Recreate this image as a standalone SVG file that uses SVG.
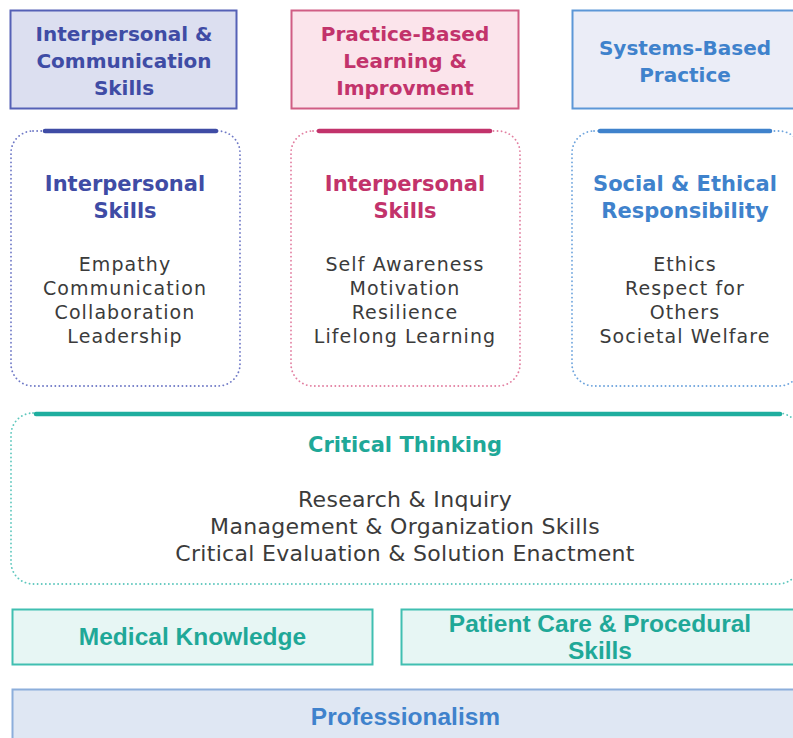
<svg xmlns="http://www.w3.org/2000/svg" width="793" height="738" viewBox="0 0 793 738">
  <style>
    .hd { font-family: "DejaVu Sans", "Liberation Sans", sans-serif; font-weight: bold; font-size: 20px; text-anchor: middle; }
    .ch { font-size: 21px; }
    .item { font-family: "DejaVu Sans", "Liberation Sans", sans-serif; font-size: 19px; letter-spacing: 1.1px; fill: #3b3b3b; text-anchor: middle; }
    .ct { font-family: "DejaVu Sans", "Liberation Sans", sans-serif; font-size: 22px; letter-spacing: 0.3px; fill: #3b3b3b; text-anchor: middle; }
    .lb { font-family: "Liberation Sans", Arial, sans-serif; font-weight: bold; font-size: 24.5px; text-anchor: middle; }
    .card { fill: #ffffff; stroke-width: 1.8; stroke-dasharray: 0.1 4; stroke-linecap: round; }
    .bar { stroke-width: 4.5; stroke-linecap: round; }
    .indigo { fill: #3f4ca5; }
    .rose { fill: #c2336b; }
    .blue { fill: #3f82cc; }
    .teal { fill: #1fa898; }
  </style>
  <rect width="793" height="738" fill="#ffffff"/>

  <!-- top row: competency headers -->
  <g id="interpersonal-communication">
    <rect x="10.5" y="10.5" width="226" height="98" fill="#dcdff0" stroke="#5561b6" stroke-width="2"/>
    <text class="hd indigo" x="124" y="41">Interpersonal &amp;</text>
    <text class="hd indigo" x="124" y="68">Communication</text>
    <text class="hd indigo" x="124" y="95">Skills</text>
  </g>
  <g id="practice-based-learning">
    <rect x="291.5" y="10.5" width="227" height="98" fill="#fbe4eb" stroke="#d05d84" stroke-width="2"/>
    <text class="hd rose" x="405" y="41">Practice-Based</text>
    <text class="hd rose" x="405" y="68">Learning &amp;</text>
    <text class="hd rose" x="405" y="95">Improvment</text>
  </g>
  <g id="systems-based-practice">
    <rect x="572.5" y="10.5" width="227" height="98" fill="#ebedf7" stroke="#5c97d7" stroke-width="2"/>
    <text class="hd blue" x="685" y="55">Systems-Based</text>
    <text class="hd blue" x="685" y="82">Practice</text>
  </g>

  <!-- middle row: skill cards -->
  <g id="card-interpersonal">
    <rect class="card" x="11" y="131" width="229" height="255" rx="22" stroke="#6f79c6"/>
    <line class="bar" x1="45" y1="131" x2="216" y2="131" stroke="#3f4ca5"/>
    <text class="hd ch indigo" x="125" y="191">Interpersonal</text>
    <text class="hd ch indigo" x="125" y="218">Skills</text>
    <text class="item" x="125" y="271">Empathy</text>
    <text class="item" x="125" y="295">Communication</text>
    <text class="item" x="125" y="319">Collaboration</text>
    <text class="item" x="125" y="343">Leadership</text>
  </g>
  <g id="card-self">
    <rect class="card" x="291" y="131" width="229" height="255" rx="22" stroke="#e27fa1"/>
    <line class="bar" x1="319" y1="131" x2="490" y2="131" stroke="#c2336b"/>
    <text class="hd ch rose" x="405" y="191">Interpersonal</text>
    <text class="hd ch rose" x="405" y="218">Skills</text>
    <text class="item" x="405" y="271">Self Awareness</text>
    <text class="item" x="405" y="295">Motivation</text>
    <text class="item" x="405" y="319">Resilience</text>
    <text class="item" x="405" y="343">Lifelong Learning</text>
  </g>
  <g id="card-social">
    <rect class="card" x="572" y="131" width="229" height="255" rx="22" stroke="#6ea4dd"/>
    <line class="bar" x1="600" y1="131" x2="770" y2="131" stroke="#3f82cc"/>
    <text class="hd ch blue" x="685" y="191">Social &amp; Ethical</text>
    <text class="hd ch blue" x="685" y="218">Responsibility</text>
    <text class="item" x="685" y="271">Ethics</text>
    <text class="item" x="685" y="295">Respect for</text>
    <text class="item" x="685" y="319">Others</text>
    <text class="item" x="685" y="343">Societal Welfare</text>
  </g>

  <!-- wide card: critical thinking -->
  <g id="critical-thinking">
    <rect class="card" x="11" y="413" width="789" height="171" rx="22" stroke="#5ec7bd"/>
    <line class="bar" x1="36" y1="414" x2="780" y2="414" stroke="#1fae9f"/>
    <text class="hd ch teal" x="405" y="452">Critical Thinking</text>
    <text class="ct" x="405" y="507">Research &amp; Inquiry</text>
    <text class="ct" x="405" y="534">Management &amp; Organization Skills</text>
    <text class="ct" x="405" y="561">Critical Evaluation &amp; Solution Enactment</text>
  </g>

  <!-- base row -->
  <g id="medical-knowledge">
    <rect x="12.5" y="609.5" width="360" height="55" fill="#e7f6f4" stroke="#40bfb1" stroke-width="2"/>
    <text class="lb teal" x="192.5" y="645">Medical Knowledge</text>
  </g>
  <g id="patient-care">
    <rect x="401.5" y="609.5" width="397" height="55" fill="#e7f6f4" stroke="#40bfb1" stroke-width="2"/>
    <text class="lb teal" x="600" y="632">Patient Care &amp; Procedural</text>
    <text class="lb teal" x="600" y="659">Skills</text>
  </g>
  <g id="professionalism">
    <rect x="12.5" y="689.5" width="787" height="60" fill="#dfe7f3" stroke="#8caedb" stroke-width="2"/>
    <text class="lb blue" x="405.5" y="725">Professionalism</text>
  </g>
</svg>
